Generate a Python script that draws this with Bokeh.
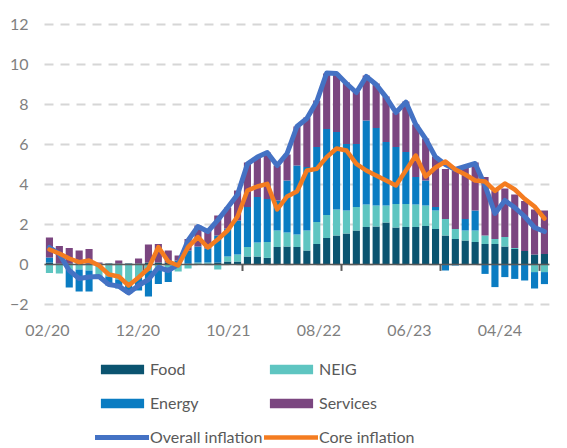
import numpy as np
import pandas as pd
from bokeh.plotting import figure
from bokeh.models import Range1d, FixedTicker, Legend, LegendItem
from bokeh.embed import file_html
from bokeh.resources import INLINE

# ---------------- data ----------------
months = pd.date_range("2020-02-01", "2024-04-01", freq="MS").strftime("%m/%y").tolist()
tick_labels = ["02/20", "12/20", "10/21", "08/22", "06/23", "04/24"]
y_ticks = [-2, 0, 2, 4, 6, 8, 10, 12]

food = [0.10, 0.05, 0.05, 0.05, 0.05, 0.05, 0.05, 0.05, 0.05, 0.05,
        0.10, 0.10, 0.10, 0.05, 0.05, 0.05, 0.05, 0.10, 0.15, 0.15,
        0.40, 0.40, 0.33, 0.87, 0.90, 0.87, 0.70, 1.03, 1.33, 1.45,
        1.55, 1.70, 1.87, 1.90, 2.10, 1.85, 1.87, 1.87, 1.92, 1.78,
        1.45, 1.28, 1.20, 1.12, 1.03, 1.03, 0.90, 0.78, 0.67, 0.50, 0.53]
neig = [-0.43, -0.45, -0.25, -0.25, -0.30, -0.55, -0.60, -0.75, -0.90, -0.65,
        -0.30, -0.25, -0.25, -0.35, -0.20, 0.05, 0.05, -0.25, 0.25, 0.35,
        0.47, 0.70, 0.80, 0.83, 0.70, 0.63, 1.00, 1.10, 1.15, 1.30,
        1.15, 1.17, 1.13, 1.05, 0.85, 1.18, 1.16, 1.13, 1.03, 0.92,
        0.83, 0.50, 0.50, 0.58, 0.42, 0.25, 0.47, 0.05, 0.00, -0.38, -0.38]
energy = [0.25, 0.00, -0.90, -1.10, -1.05, -0.15, -0.45, -0.45, -0.55, -0.65,
          -1.30, -0.72, -0.63, 0.15, 0.65, 0.80, 0.70, 1.35, 1.40, 1.70,
          2.00, 2.27, 2.15, 1.50, 2.60, 3.45, 3.17, 3.74, 4.30, 3.87,
          3.33, 3.16, 4.20, 3.88, 3.17, 2.84, 2.59, 1.37, 1.25, 0.17,
          -0.30, -0.05, 0.58, 1.00, -0.47, -1.13, -0.63, -0.72, -0.80, -0.82, -0.60]
services = [1.00, 0.88, 0.78, 0.65, 0.73, 0.05, 0.00, 0.15, 0.00, 0.25,
            0.90, 0.93, 0.60, 0.25, 0.58, 1.05, 0.90, 1.00, 1.05, 1.50,
            2.23, 2.00, 2.32, 1.75, 1.30, 1.95, 2.48, 2.33, 2.77, 2.93,
            3.07, 2.62, 2.25, 2.22, 2.28, 1.73, 2.53, 2.63, 2.10, 2.53,
            2.50, 2.92, 2.59, 2.40, 2.92, 2.42, 2.43, 2.67, 2.50, 2.25, 2.17]
overall = [0.85, 0.53, -0.30, -0.70, -0.63, -0.60, -1.00, -1.08, -1.42, -1.05,
           -0.75, -0.15, -0.30, 0.00, 1.20, 1.90, 1.65, 2.22, 2.85, 3.50,
           5.03, 5.37, 5.60, 4.95, 5.55, 6.90, 7.30, 8.15, 9.57, 9.55,
           9.05, 8.60, 9.40, 9.00, 8.37, 7.60, 8.12, 7.00, 6.28, 5.37,
           5.00, 4.75, 4.90, 5.05, 3.95, 2.55, 3.20, 2.85, 2.40, 1.85, 1.65]
core = [0.75, 0.55, 0.30, 0.12, 0.20, -0.05, -0.50, -0.60, -1.05, -0.65,
        -0.20, 0.87, 0.15, -0.05, 0.87, 1.37, 0.85, 1.25, 1.70, 2.40,
        3.70, 3.90, 4.03, 2.75, 3.40, 3.65, 4.70, 4.78, 5.37, 5.80,
        5.70, 5.03, 4.70, 4.45, 4.20, 3.95, 4.70, 5.45, 4.40, 4.85,
        5.15, 4.75, 4.50, 4.20, 4.15, 3.68, 4.05, 3.75, 3.28, 2.90, 2.30]

series_names = ["Food", "NEIG", "Energy", "Services"]
series_vals = [food, neig, energy, services]
series_colors = ["#0b5470", "#5ec5c1", "#0a7cc2", "#7b4680"]

# ---------------- layout constants (pixels) ----------------
W, H = 567, 448
PX_X = 9.9          # pixels per month
PX_Y = 20.0         # pixels per unit
PLOT_LEFT = 44      # left edge of the bar area
ZERO_Y = 264        # pixel row of the 0 line
n = len(months)
x = np.arange(n)
FONT = "Lato"
Y_MIN, Y_MAX = -2.1, 12.1

x_start = -0.5 - PLOT_LEFT / PX_X
x_end = x_start + W / PX_X
y_top = ZERO_Y / PX_Y
y_bot = y_top - H / PX_Y

p = figure(width=W, height=H, output_backend="svg", toolbar_location=None,
           x_range=Range1d(x_start, x_end), y_range=Range1d(y_bot, y_top),
           min_border=0)
p.outline_line_color = None
p.background_fill_color = "white"
p.xgrid.visible = False
p.ygrid.visible = False

# dashed horizontal gridlines limited to the bar area
p.segment(x0=np.full(len(y_ticks), -0.5), y0=y_ticks,
          x1=np.full(len(y_ticks), n - 0.5), y1=y_ticks,
          line_color="#d6d6d6", line_width=2, line_dash="9 7")

# y axis, drawn at the left edge of the bar area
p.yaxis.fixed_location = -0.5
p.yaxis.ticker = FixedTicker(ticks=y_ticks)
p.yaxis.axis_line_color = None
p.yaxis.major_tick_line_color = None
p.yaxis.minor_tick_line_color = None
p.yaxis.major_tick_out = 0
p.yaxis.major_label_standoff = 16
p.yaxis.major_label_text_font = FONT
p.yaxis.major_label_text_font_size = "16px"
p.yaxis.major_label_text_color = "#7f7f7f"

# x axis (labels only), drawn under the value band
label_pos = [float(v) for v in np.round(np.linspace(-0.2, 45.5, len(tick_labels)), 2)]
p.xaxis.fixed_location = Y_MIN
p.xaxis.ticker = FixedTicker(ticks=label_pos)
p.xaxis.major_label_overrides = {pos: lab for pos, lab in zip(label_pos, tick_labels)}
p.xaxis.axis_line_color = None
p.xaxis.major_tick_line_color = None
p.xaxis.minor_tick_line_color = None
p.xaxis.major_tick_out = 0
p.xaxis.major_label_standoff = 13
p.xaxis.major_label_text_font = FONT
p.xaxis.major_label_text_font_size = "16px"
p.xaxis.major_label_text_color = "#7f7f7f"

# stacked bars (positives up, negatives down)
pos = np.zeros(n)
neg = np.zeros(n)
bar_r = {}
for name, vals, col in zip(series_names, series_vals, series_colors):
    v = np.array(vals, dtype=float)
    bottom = np.where(v >= 0, pos, neg)
    top = bottom + v
    pos = np.where(v >= 0, top, pos)
    neg = np.where(v < 0, top, neg)
    bar_r[name] = p.vbar(x=x, bottom=bottom, top=top, width=0.72,
                         fill_color=col, line_color=None)

# zero axis line with ticks every 10 months
p.line(x=[-0.5, n - 0.5], y=[0, 0], line_color="#5a5a5a", line_width=1.5)
tick_x = np.arange(9.5, n, 10)
p.segment(x0=tick_x, y0=np.zeros(len(tick_x)), x1=tick_x, y1=np.full(len(tick_x), -0.32),
          line_color="#5a5a5a", line_width=2)

# lines
r_over = p.line(x=x, y=overall, line_color="#4472c4", line_width=5,
                line_join="round", line_cap="round")
r_core = p.line(x=x, y=core, line_color="#f47c20", line_width=4.5,
                line_join="round", line_cap="round")

# legends (two columns)
def make_legend(items, loc):
    lg = Legend(items=items, location=loc, orientation="vertical")
    lg.glyph_width = 54
    lg.glyph_height = 12
    lg.label_height = 12
    lg.label_standoff = 1
    lg.spacing = 15
    lg.padding = 0
    lg.margin = 0
    lg.border_line_color = None
    lg.background_fill_alpha = 0
    lg.label_text_font = FONT
    lg.label_text_font_size = "16px"
    lg.label_text_color = "#595959"
    return lg

leg1 = make_legend([LegendItem(label="Food", renderers=[bar_r["Food"]]),
                    LegendItem(label="Energy", renderers=[bar_r["Energy"]]),
                    LegendItem(label="Overall inflation", renderers=[r_over])],
                   (95, 2))
leg2 = make_legend([LegendItem(label="NEIG", renderers=[bar_r["NEIG"]]),
                    LegendItem(label="Services", renderers=[bar_r["Services"]]),
                    LegendItem(label="Core inflation", renderers=[r_core])],
                   (264, 2))
p.add_layout(leg1)
p.add_layout(leg2)

open("out.html", "w").write(file_html(p, INLINE))
